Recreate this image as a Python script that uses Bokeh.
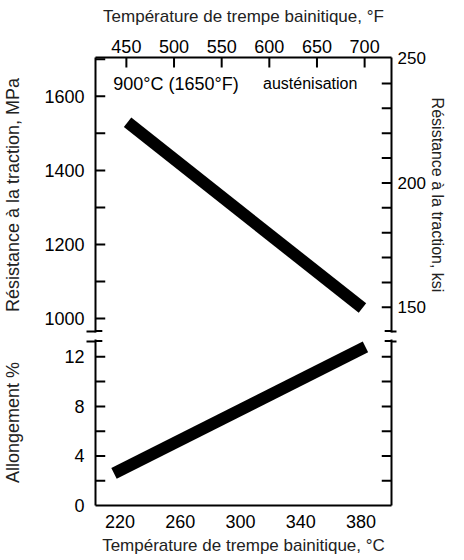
from bokeh.plotting import figure
from bokeh.models import LinearAxis, Range1d, FixedTicker, Label
from bokeh.layouts import column
from bokeh.embed import file_html
from bokeh.resources import INLINE

# ---- data ----
temp_c_upper = [225, 381]
tensile_mpa = [1530, 1028]
temp_c_lower = [216, 383]
elongation = [2.6, 12.8]

c_ticks = [220, 260, 300, 340, 380]
f_ticks = [450, 500, 550, 600, 650, 700]
mpa_ticks = [1000, 1200, 1400, 1600]
mpa_minor = [1000, 1100, 1200, 1300, 1400, 1500, 1600, 1700]
ksi_ticks = [150, 200, 250]
ksi_minor = [150, 160, 170, 180, 190, 200, 210, 220, 230, 240]
el_ticks = [0, 4, 8, 12]
el_minor = [2, 4, 6, 8, 10, 12]

FONT = "Liberation Sans"
W = 448
ML, MR = 92, 52
UP_H, UP_TOP, UP_BOT = 335, 57, 3
LO_H, LO_TOP, LO_BOT = 225, 4, 55
TICK = 10      # inward tick length, px
BAR_IN = 7     # break-bar length inside the frame, px

c_range = Range1d(203.7, 400.3)
f_range = Range1d(417.6, 728.2)
mpa_range = Range1d(962, 1705)
ksi_range = Range1d(139.9, 250.4)
el_range = Range1d(0, 13.4)

frame_w = W - ML - MR
up_fh = UP_H - UP_TOP - UP_BOT
lo_fh = LO_H - LO_TOP - LO_BOT
cx = (c_range.end - c_range.start) / frame_w          # degC per px
my = (mpa_range.end - mpa_range.start) / up_fh        # MPa per px
ky = (ksi_range.end - ksi_range.start) / up_fh        # ksi per px
ey = (el_range.end - el_range.start) / lo_fh          # % per px


def style(ax, label_standoff=8, bar_out=0, title_size="17px",
          tick_size="18px"):
    ax.axis_line_width = 2
    ax.axis_line_color = "black"
    ax.major_tick_line_color = None
    ax.major_tick_in = 0
    ax.major_tick_out = 0
    ax.minor_tick_line_width = 2
    ax.minor_tick_line_color = "black"
    ax.minor_tick_in = 0
    ax.minor_tick_out = bar_out
    ax.major_label_text_font = FONT
    ax.major_label_text_font_size = tick_size
    ax.major_label_text_color = "black"
    ax.axis_label_text_font = FONT
    ax.axis_label_text_font_size = title_size
    ax.axis_label_text_font_style = "normal"
    ax.axis_label_text_color = "#222222"
    ax.axis_label_standoff = label_standoff


common = dict(width=W, toolbar_location=None, output_backend="svg",
              x_axis_location=None, y_axis_location=None,
              min_border_left=ML, min_border_right=MR,
              outline_line_color=None, background_fill_color="white",
              border_fill_color="white")

# ---- upper panel ----
up = figure(height=UP_H, x_range=c_range, y_range=mpa_range,
            min_border_top=UP_TOP, min_border_bottom=UP_BOT, **common)
up.extra_x_ranges = {"F": f_range}
up.extra_y_ranges = {"ksi": ksi_range}
up.grid.visible = False

mpa_brk = mpa_range.start + 1.5 * my
ksi_brk = ksi_range.start + 1.5 * ky

top_ax = LinearAxis(x_range_name="F", ticker=FixedTicker(ticks=f_ticks),
                    axis_label="Température de trempe bainitique, °F")
style(top_ax, label_standoff=11)
top_ax.major_label_standoff = 5
up.add_layout(top_ax, "above")

mpa_ax = LinearAxis(ticker=FixedTicker(ticks=mpa_ticks, minor_ticks=[mpa_brk]),
                    axis_label="Résistance à la traction, MPa")
style(mpa_ax, label_standoff=18, bar_out=9, title_size="18px")
mpa_ax.major_label_standoff = 2
up.add_layout(mpa_ax, "left")

ksi_ax = LinearAxis(y_range_name="ksi",
                    ticker=FixedTicker(ticks=ksi_ticks, minor_ticks=[ksi_brk]),
                    axis_label="Résistance à la traction, ksi")
style(ksi_ax, label_standoff=0, bar_out=5, title_size="16px",
      tick_size="17px")
ksi_ax.major_label_standoff = 1
up.add_layout(ksi_ax, "right")

# inward ticks
n = len(mpa_minor)
up.segment(x0=[c_range.start] * n, y0=mpa_minor,
           x1=[c_range.start + TICK * cx] * n, y1=mpa_minor,
           line_width=2, line_color="black")
n = len(ksi_minor)
up.segment(x0=[c_range.end] * n, y0=ksi_minor,
           x1=[c_range.end - TICK * cx] * n, y1=ksi_minor,
           line_width=2, line_color="black", y_range_name="ksi")
n = len(f_ticks)
up.segment(x0=f_ticks, y0=[mpa_range.end] * n,
           x1=f_ticks, y1=[mpa_range.end - TICK * my] * n,
           line_width=2, line_color="black", x_range_name="F")
# inner halves of the axis-break bars
up.segment(x0=[c_range.start, c_range.end], y0=[mpa_brk, mpa_brk],
           x1=[c_range.start + BAR_IN * cx, c_range.end - BAR_IN * cx],
           y1=[mpa_brk, mpa_brk], line_width=2, line_color="black")

up.line(temp_c_upper, tensile_mpa, line_width=12, line_color="black",
        line_cap="butt")

up.add_layout(Label(x=215.5, y=1634, text="900°C (1650°F)", text_font=FONT,
                    text_font_size="18px", text_baseline="middle",
                    text_color="black"))
up.add_layout(Label(x=315, y=1634, text="austénisation", text_font=FONT,
                    text_font_size="16px", text_baseline="middle",
                    text_color="black"))

# ---- lower panel ----
lo = figure(height=LO_H, x_range=c_range, y_range=el_range,
            min_border_top=LO_TOP, min_border_bottom=LO_BOT, **common)
lo.grid.visible = False

el_brk = el_range.end - 1.5 * ey

bot_ax = LinearAxis(ticker=FixedTicker(ticks=c_ticks),
                    axis_label="Température de trempe bainitique, °C")
style(bot_ax, label_standoff=5)
bot_ax.major_label_standoff = 9
lo.add_layout(bot_ax, "below")

el_ax = LinearAxis(ticker=FixedTicker(ticks=el_ticks, minor_ticks=[el_brk]),
                   axis_label="Allongement %")
style(el_ax, label_standoff=38, bar_out=9, title_size="18px")
el_ax.major_label_standoff = 2
lo.add_layout(el_ax, "left")

el_r = LinearAxis(ticker=FixedTicker(ticks=[], minor_ticks=[el_brk]))
style(el_r, bar_out=5)
lo.add_layout(el_r, "right")

n = len(el_minor)
lo.segment(x0=[c_range.start] * n, y0=el_minor,
           x1=[c_range.start + TICK * cx] * n, y1=el_minor,
           line_width=2, line_color="black")
lo.segment(x0=[c_range.end] * n, y0=el_minor,
           x1=[c_range.end - TICK * cx] * n, y1=el_minor,
           line_width=2, line_color="black")
lo.segment(x0=[c_range.start, c_range.end], y0=[el_brk, el_brk],
           x1=[c_range.start + BAR_IN * cx, c_range.end - BAR_IN * cx],
           y1=[el_brk, el_brk], line_width=2, line_color="black")

lo.line(temp_c_lower, elongation, line_width=12, line_color="black",
        line_cap="butt")

layout = column(up, lo, spacing=0)
open("out.html", "w").write(file_html(layout, INLINE))
